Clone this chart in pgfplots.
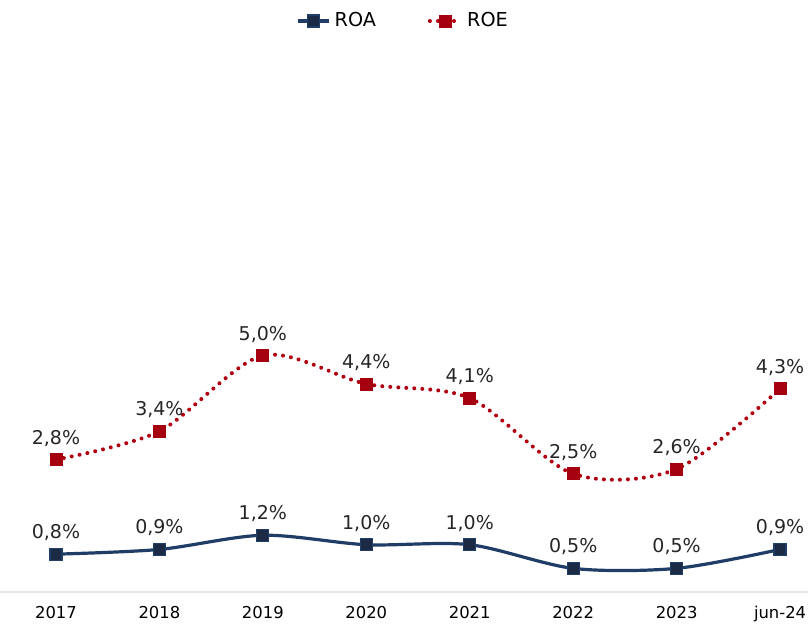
\documentclass[border=0pt]{standalone}
\usepackage{fontspec}
\setmainfont{DejaVu Sans}
\usepackage{pgfplots}
\pgfplotsset{compat=1.18}
\definecolor{roaLine}{HTML}{1F3D66}
\definecolor{roaMark}{HTML}{1B2A45}
\definecolor{roeLine}{HTML}{B00010}
\definecolor{roeMark}{HTML}{A50010}
\definecolor{axGray}{HTML}{E6E6E6}

\begin{document}
\begin{tikzpicture}
\useasboundingbox (0,-17pt) rectangle (404pt,296pt);
\begin{axis}[
    scale only axis,
    width=404pt, height=296pt,
    xmin=-0.541, xmax=7.270,
    ymin=0, ymax=12.52,
    clip=false,
    axis y line=none,
    axis x line*=bottom,
    x axis line style={axGray, line width=0.8pt, -},
    xtick={0,...,7},
    xticklabels={2017,2018,2019,2020,2021,2022,2023,jun-24},
    xticklabel style={font=\fontsize{8.2}{9}\selectfont, text=black, yshift=-3.5pt},
    major tick length=0pt,
    nodes near coords={\pgfmathprintnumber[fixed,fixed zerofill,precision=1,use comma,assume math mode=true]{\pgfplotspointmeta}\%},
    every node near coord/.append style={font=\fontsize{9.5}{10}\selectfont, text=black!85, yshift=3pt},
    point meta=y,
    legend columns=2,
    legend style={at={(0.5,1)}, anchor=north, yshift=-2pt, draw=none, fill=none,
      font=\fontsize{9.6}{10}\selectfont, /tikz/every even column/.append style={column sep=24pt}},
    legend image code/.code={
      \draw[#1, mark=none] (0cm,0cm) -- (0.55cm,0cm);
      \draw[#1, only marks] plot coordinates {(0.275cm,0cm)};
    },
    legend cell align=left,
]
  % ROA
  \addplot[roaLine, line width=1.6pt, smooth, tension=0.5,
    mark=square*, mark size=3pt,
    mark options={fill=roaMark, draw=roaLine, line width=0.6pt, solid}]
    coordinates {(0,0.8) (1,0.9) (2,1.2) (3,1.0) (4,1.0) (5,0.5) (6,0.5) (7,0.9)};
  \addlegendentry{ROA}
  % ROE
  \addplot[roeLine, line width=2pt, line cap=round, dash pattern=on 0.01pt off 4pt,
    smooth, tension=0.5,
    mark=square*, mark size=3pt,
    mark options={fill=roeMark, draw=roeMark, line width=0.4pt, solid}]
    coordinates {(0,2.8) (1,3.4) (2,5.0) (3,4.4) (4,4.1) (5,2.5) (6,2.6) (7,4.3)};
  \addlegendentry{ROE}
\end{axis}
\end{tikzpicture}
\end{document}
